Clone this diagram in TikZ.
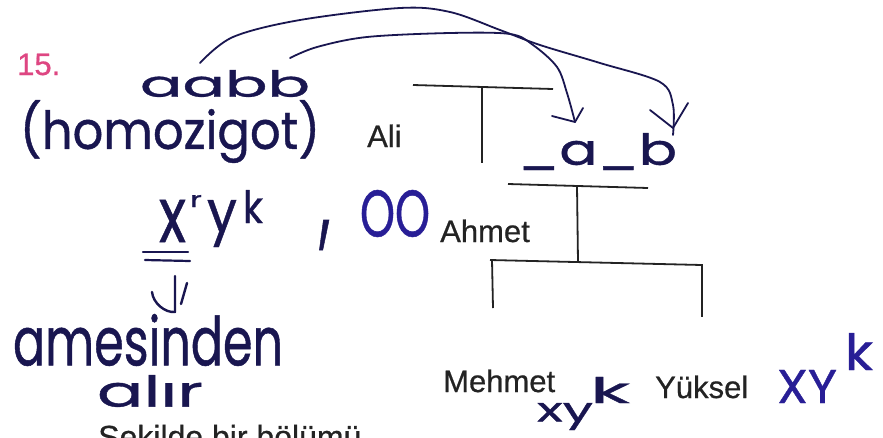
\documentclass[tikz,border=0pt]{standalone}
\usepackage{fontspec}
\setmainfont{Liberation Sans}[FakeBold=0.6]
\newfontfamily\handfont{Poppins}[FakeBold=0.8]
\usetikzlibrary{arrows.meta}
\definecolor{hand}{RGB}{25,22,80}
\definecolor{handb}{RGB}{40,30,150}
\definecolor{pinkn}{RGB}{222,70,130}
\definecolor{ink}{RGB}{35,35,35}
\newcommand\hw[3]{\resizebox*{#1pt}{#2pt}{\handfont #3}}
\begin{document}
\begin{tikzpicture}[x=1pt,y=-1pt,
  print/.style={font=\fontsize{31}{36}\selectfont, text=ink, inner sep=0pt, anchor=base west},
  hnode/.style={inner sep=0pt, text=hand},
  pedline/.style={draw=ink, line width=1.8pt},
  curve/.style={draw=hand, line width=1.8pt, line cap=round, line join=round}]
\clip (0,0) rectangle (883,437);
\fill[white] (0,0) rectangle (883,437);

% printed labels
\node[print, text=pinkn] (num) at (17,75) {15.};
\node[print] (ali) at (367,147) {Ali};
\node[print] (ahmet) at (440,242) {Ahmet};
\node[print] (mehmet) at (443,392) {Mehmet};
\node[print] (yuksel) at (655,398) {Yüksel};
\node[print, font=\fontsize{32}{36}\selectfont] (bottom) at (98,448) {Şekilde bir bölümü};

% handwriting
\node[hnode] (aabb) at (225,83.5) {\hw{170}{27}{aabb}};
\node[hnode] (homo) at (170,131.5) {\hw{300}{63}{(homozigot)}};
\node[hnode] (x1) at (172.5,221) {\hw{27}{42}{x}};
\node[hnode] (r1) at (196,201) {\hw{12}{12}{r}};
\node[hnode] (y1) at (222,223.5) {\hw{30}{47}{y}};
\node[hnode] (k1) at (253,206.5) {\hw{20}{33}{k}};
\node[hnode] (comma) at (325,235) {\hw{11}{30}{,}};
\node[hnode, text=handb] (oo) at (395,213.5) {\hw{70}{47}{OO}};
\node[hnode] (ame) at (148,340) {\hw{270}{52}{amesinden}};
\node[hnode] (alir) at (150,391) {\hw{106}{32}{alır}};
\node[hnode] (ab) at (597.5,151.5) {\hw{159}{37}{\_a\_b}};
\node[hnode] (xy1) at (565,416.5) {\hw{56}{27}{xy}};
\node[hnode] (k2) at (610,390) {\hw{40}{26}{k}};
\node[hnode, text=handb] (XY) at (807,386.5) {\hw{60}{33}{XY}};
\node[hnode, text=handb] (k3) at (859,351.5) {\hw{28}{37}{k}};

% pedigree lines
\draw[pedline] (413,85) -- (553,89);
\draw[pedline] (482,87) -- (482,163);
\draw[pedline] (508,184) -- (648,188);
\draw[pedline] (577,186) -- (578,262);
\draw[pedline] (490,260) -- (702,265);
\draw[pedline] (492,260) -- (493,308);
\draw[pedline] (702,264) -- (702,317);

% curved arrows
\coordinate (s1) at (200,63);
\coordinate (e1) at (673,135);
\coordinate (s2) at (290,58);
\coordinate (e2) at (575,122);
\draw[curve] plot[smooth, tension=0.55] coordinates {(s1) (233,37) (300,20) (400,8) (450,12) (500,30) (540,45) (600,63) (660,82) (673,105) (e1)};
\draw[curve] plot[smooth, tension=0.55] coordinates {(s2) (317,47) (367,37) (450,33) (510,34) (533,45) (557,67) (567,93) (e2)};
\draw[curve] (650,110) -- (673,128) -- (688,103);
\draw[curve] (552,116) -- (e2) -- (583,108);

% double underline and down arrow
\draw[curve, line width=2.2pt] (143,252) -- (188,252);
\draw[curve, line width=2.2pt] (145,260) -- (190,261);
\draw[curve, line width=2.4pt] (175,276) -- (175,312) .. controls (165,313) and (153,303) .. (152,292);
\draw[curve, line width=2.4pt] (187,283) -- (181,304);
\end{tikzpicture}
\end{document}
